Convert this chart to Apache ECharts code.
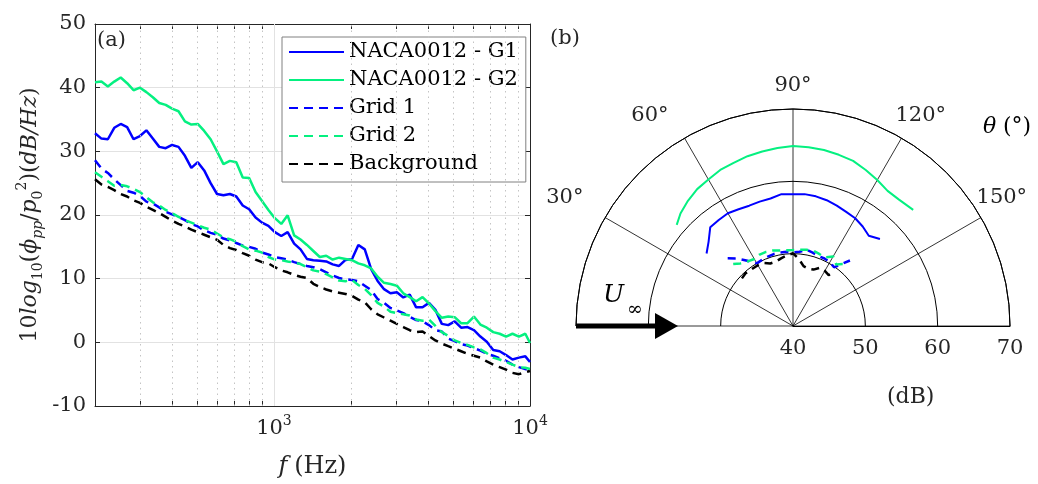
<!DOCTYPE html>
<html><head><meta charset="utf-8">
<script src="https://cdn.jsdelivr.net/npm/echarts@6/dist/echarts.min.js"></script>
<style>html,body{margin:0;padding:0;background:#fff}#c{width:1038px;height:484px}</style>
</head><body><div id="c"></div>
<script>
// ---------- Panel (a) data ----------
const freqs = [200, 211.9, 224.5, 237.8, 252.0, 267.0, 282.8, 299.7, 317.5, 336.4, 356.4, 377.6, 400, 423.8, 449.0, 475.7, 504.0, 533.9, 565.7, 599.3, 635.0, 672.7, 712.7, 755.1, 800, 847.6, 898.0, 951.4, 1008, 1068, 1131, 1199, 1270, 1345, 1425, 1510, 1600, 1695, 1796, 1903, 2016, 2136, 2263, 2397, 2540, 2691, 2851, 3020, 3200, 3390, 3592, 3805, 4032, 4271, 4525, 4794, 5080, 5382, 5702, 6041, 6400, 6781, 7184, 7611, 8063, 8543, 9051, 9589, 10000];
const nacaG1 = [32.85, 32.0, 31.9, 33.7, 34.3, 33.8, 31.9, 32.4, 33.3, 32.0, 30.7, 30.5, 31.0, 30.7, 29.3, 27.4, 28.3, 27.0, 25.0, 23.3, 23.1, 23.3, 22.9, 21.5, 20.9, 19.6, 18.8, 18.3, 17.3, 16.7, 17.3, 15.5, 14.6, 13.1, 12.9, 12.8, 12.7, 12.25, 12.0, 12.95, 13.05, 15.3, 14.6, 11.5, 9.65, 8.35, 7.7, 7.85, 7.05, 7.5, 5.5, 5.5, 6.2, 5.1, 2.9, 2.7, 3.3, 2.3, 2.4, 1.9, 0.9, 0.1, -1.2, -1.4, -2.0, -2.7, -2.4, -2.2, -3.1];
const nacaG2 = [40.85, 40.95, 40.2, 40.95, 41.6, 40.7, 39.6, 40.0, 39.3, 38.5, 37.6, 37.3, 36.7, 36.3, 34.7, 34.2, 34.3, 33.2, 31.9, 30.0, 28.0, 28.5, 28.3, 25.9, 25.8, 23.6, 22.2, 20.8, 19.5, 18.6, 19.95, 16.8, 16.15, 15.3, 14.35, 13.4, 13.6, 13.0, 13.3, 13.1, 12.9, 12.4, 12.1, 11.6, 10.3, 9.35, 9.15, 8.9, 7.7, 7.1, 6.45, 7.1, 6.1, 4.9, 3.85, 4.05, 3.95, 3.0, 3.0, 4.05, 2.8, 2.3, 1.6, 1.35, 0.9, 1.35, 0.9, 1.35, -0.1];
const grid1 = [28.6, 27.3, 26.6, 25.6, 24.7, 23.8, 23.5, 23.0, 22.1, 21.8, 21.2, 20.5, 20.1, 19.7, 19.2, 18.6, 18.2, 17.6, 17.2, 16.9, 16.3, 16.0, 15.6, 15.2, 15.0, 14.7, 14.1, 13.8, 13.4, 13.2, 13.0, 12.6, 12.3, 12.0, 11.8, 11.5, 11.0, 10.5, 10.1, 9.9, 9.8, 9.6, 8.9, 8.2, 6.8, 6.2, 5.4, 5.0, 4.6, 4.0, 3.5, 3.3, 2.7, 1.9, 1.7, 0.6, 0.2, -0.3, -0.5, -0.9, -1.3, -1.8, -2.1, -2.5, -2.9, -3.5, -3.9, -4.2, -4.4];
const grid2 = [26.7, 26.0, 25.3, 24.6, 24.7, 24.5, 24.1, 23.6, 22.8, 22.0, 21.5, 20.8, 20.3, 19.7, 19.2, 18.8, 18.4, 18.0, 17.7, 17.1, 16.5, 16.2, 15.8, 15.1, 14.6, 14.4, 14.1, 13.4, 13.0, 12.9, 12.7, 12.5, 12.3, 11.8, 11.3, 11.1, 10.7, 10.2, 9.7, 9.6, 9.8, 9.0, 8.4, 7.4, 6.2, 5.6, 4.8, 4.6, 4.4, 4.2, 3.6, 3.4, 3.6, 2.6, 1.6, 1.0, 0.3, -0.1, -0.4, -0.8, -1.1, -1.7, -2.4, -2.7, -3.1, -3.5, -3.9, -4.0, -4.2];
const background = [25.6, 24.8, 24.4, 23.9, 23.3, 22.9, 22.3, 21.9, 21.3, 20.8, 20.3, 19.7, 19.1, 18.6, 18.2, 17.7, 17.3, 16.9, 16.5, 16.1, 15.3, 14.8, 14.5, 14.0, 13.6, 13.0, 12.6, 12.4, 11.8, 11.3, 11.0, 10.6, 10.3, 10.1, 9.2, 8.7, 8.3, 8.0, 7.8, 7.6, 7.3, 6.7, 6.3, 5.2, 4.4, 3.9, 3.4, 2.9, 2.4, 1.9, 1.6, 1.7, 1.0, 0.3, -0.2, -0.6, -1.0, -1.4, -1.8, -2.1, -2.4, -3.0, -3.5, -3.9, -4.3, -4.8, -5.0, -4.7, -4.5];
const majorFreqs = [1000, 10000];
const minorFreqs = [300, 400, 500, 600, 700, 800, 900, 2000, 3000, 4000, 5000, 6000, 7000, 8000, 9000];
const tickFreqs = [200, 300, 400, 500, 600, 700, 800, 900, 1000, 2000, 3000, 4000, 5000, 6000, 7000, 8000, 9000, 10000];
const seriesNames = ['NACA0012 - G1', 'NACA0012 - G2', 'Grid 1', 'Grid 2', 'Background'];

// ---------- Panel (b) data (theta in degrees, level in dB) ----------
const thetaG1 = [40, 45, 50, 55, 60, 65, 70, 75, 80, 85, 90, 95, 100, 105, 110, 115, 120, 125, 130, 135];
const polarG1 = [55.6, 56.5, 57.8, 57.9, 58.0, 57.8, 57.7, 57.8, 57.9, 58.3, 58.2, 58.3, 58.2, 58.0, 57.7, 57.4, 57.2, 56.8, 56.3, 57.0];
const thetaG2 = [41, 45, 50, 55, 60, 65, 70, 75, 80, 85, 90, 95, 100, 105, 110, 115, 120, 125, 130, 136];
const polarG2 = [61.3, 62.0, 62.6, 63.1, 63.4, 63.8, 64.0, 64.3, 64.5, 64.7, 64.9, 64.8, 64.7, 64.5, 64.3, 63.8, 63.3, 62.8, 62.8, 63.1];
const thetaGrid1 = [46, 50, 55, 60, 65, 70, 75, 80, 85, 90, 95, 100, 105, 110, 115, 120, 125, 131];
const polarGrid1 = [53.0, 52.2, 51.0, 50.0, 50.1, 50.2, 50.3, 50.3, 50.3, 50.2, 50.3, 50.7, 50.5, 50.3, 50.3, 50.2, 49.9, 52.0];
const thetaGrid2 = [46, 50, 55, 60, 65, 70, 75, 80, 85, 90, 95, 100, 105, 110, 115, 120, 125, 130];
const polarGrid2 = [51.9, 51.3, 50.9, 50.7, 50.9, 50.9, 50.8, 50.6, 50.5, 50.5, 50.6, 50.7, 50.8, 50.6, 50.45, 51.1, 50.4, 51.2];
const thetaBg = [43, 48, 55, 60, 65, 70, 75, 80, 85, 90, 95, 100, 105, 110, 115, 120, 125, 127];
const polarBg = [49.65, 49.8, 49.7, 49.7, 49.6, 49.2, 49.2, 49.5, 49.8, 50.05, 49.3, 48.4, 48.2, 48.3, 48.9, 48.8, 48.6, 49.0];
const radiusTicks = [40, 50, 60, 70];

// ---------- build ----------
const FONT = 'DejaVu Serif';
const TXT = '#262626';
const BLUE = '#0000ff';
const GREEN = '#05f080';
const BLACK = '#000000';
const pairs = (xs, ys) => xs.map((x, i) => [x, ys[i]]);
const polarPairs = (th, db) => th.map((t, i) => [db[i], 180 - t]);

const chart = echarts.init(document.getElementById('c'), null, {renderer: 'canvas'});

const lineSeries = (name, data, color, dashed) => ({
  type: 'line', name, data, xAxisIndex: 0, yAxisIndex: 0, symbol: 'none', z: 3,
  lineStyle: {color, width: 2.5, type: dashed ? [9, 6] : 'solid'},
  itemStyle: {color}, animation: false
});
const polarSeries = (name, data, color, dashed) => ({
  type: 'line', name, data, coordinateSystem: 'polar', polarIndex: 0, symbol: 'none', z: 3,
  lineStyle: {color, width: dashed ? 2.5 : 2, type: dashed ? [8, 6] : 'solid'},
  itemStyle: {color}, animation: false
});

const richBase = {
  n: {fontFamily: FONT, fontSize: 22, color: TXT, lineHeight: 30, verticalAlign: 'middle'},
  i: {fontFamily: FONT, fontSize: 22, color: TXT, fontStyle: 'italic', lineHeight: 30, verticalAlign: 'middle'},
  s: {fontFamily: FONT, fontSize: 14, color: TXT, lineHeight: 14, verticalAlign: 'bottom'},
  si: {fontFamily: FONT, fontSize: 14, color: TXT, fontStyle: 'italic', lineHeight: 14, verticalAlign: 'bottom'},
  u: {fontFamily: FONT, fontSize: 14, color: TXT, lineHeight: 14, verticalAlign: 'top'}
};
const richBig = {
  n: {fontFamily: FONT, fontSize: 24, color: TXT, lineHeight: 30, verticalAlign: 'middle'},
  i: {fontFamily: FONT, fontSize: 24, color: TXT, fontStyle: 'italic', lineHeight: 30, verticalAlign: 'middle'}
};

// per-label nudges of the polar angle labels (padding in px: top, right, bottom, left)
const angleLabelRich = {
  a30: {fontFamily: FONT, fontSize: 21, color: TXT, padding: [0, 32, 15, 0]},
  a60: {fontFamily: FONT, fontSize: 21, color: TXT, padding: [0, 22, 22, 0]},
  a90: {fontFamily: FONT, fontSize: 21, color: TXT, padding: [0, 0, 25, 0]},
  a120: {fontFamily: FONT, fontSize: 21, color: TXT, padding: [0, 0, 22, 0]},
  a150: {fontFamily: FONT, fontSize: 21, color: TXT, padding: [0, 0, 15, 6]}
};

const xAxisCommon = {
  type: 'log', logBase: 10, min: 200, max: 10000, gridIndex: 0,
  axisLine: {show: true, onZero: false, lineStyle: {color: TXT, width: 1}},
  axisTick: {show: true, inside: true, length: 5, customValues: tickFreqs, lineStyle: {color: TXT}},
  splitLine: {show: false}, minorTick: {show: false}, minorSplitLine: {show: false}
};

const option = {
  animation: false,
  backgroundColor: '#ffffff',
  grid: [{left: 95, top: 24, width: 435, height: 385, show: false}],
  xAxis: [
    Object.assign({}, xAxisCommon, {
      position: 'bottom',
      axisLabel: {
        customValues: majorFreqs, margin: 8,
        formatter: v => '{b|10}{p|' + Math.round(Math.log10(v)) + '}',
        rich: {
          b: {fontFamily: FONT, fontSize: 21, color: TXT, lineHeight: 30, verticalAlign: 'middle'},
          p: {fontFamily: FONT, fontSize: 14, color: TXT, lineHeight: 14, verticalAlign: 'top'}
        }
      },
      name: '{i|f}  {n|(Hz)}', nameLocation: 'middle', nameGap: 46,
      nameTextStyle: {rich: richBig}
    }),
    Object.assign({}, xAxisCommon, {position: 'top', axisLabel: {show: false}})
  ],
  yAxis: [
    {
      type: 'value', min: -10, max: 50, interval: 10, gridIndex: 0, position: 'left',
      axisLine: {show: true, onZero: false, lineStyle: {color: TXT, width: 1}},
      axisTick: {show: true, inside: true, length: 5, lineStyle: {color: TXT}},
      axisLabel: {fontFamily: FONT, fontSize: 21, color: TXT, margin: 9},
      splitLine: {show: true, lineStyle: {color: '#e2e2e2', width: 1}},
      name: '{n|10}{i|log}{s|10}{n|(}{i|ϕ}{si|pp}{n|/}{i|p}{s|0}{u|2}{n|)(}{i|dB/Hz}{n|)}',
      nameLocation: 'middle', nameGap: 50, nameRotate: 90,
      nameTextStyle: {rich: richBase}
    },
    {
      type: 'value', min: -10, max: 50, interval: 10, gridIndex: 0, position: 'right',
      axisLine: {show: true, onZero: false, lineStyle: {color: TXT, width: 1}},
      axisTick: {show: true, inside: true, length: 5, lineStyle: {color: TXT}},
      axisLabel: {show: false}, splitLine: {show: false}
    }
  ],
  polar: [{center: [793, 326], radius: [0, 217]}],
  angleAxis: {
    polarIndex: 0, type: 'value', min: 0, max: 180, interval: 30,
    startAngle: 0, endAngle: 180, clockwise: false,
    axisLine: {show: true, lineStyle: {color: BLACK, width: 1}},
    axisTick: {show: false},
    axisLabel: {
      margin: -12, fontFamily: FONT, fontSize: 21, color: TXT,
      formatter: v => (v <= 0 || v >= 180) ? '' : '{a' + (180 - v) + '|' + (180 - v) + '°}',
      rich: angleLabelRich
    },
    splitLine: {show: true, lineStyle: {color: BLACK, width: 0.8}}
  },
  radiusAxis: {
    polarIndex: 0, type: 'value', min: radiusTicks[0], max: radiusTicks[radiusTicks.length - 1], interval: 10,
    axisLine: {show: true, lineStyle: {color: BLACK, width: 1}},
    axisTick: {show: false},
    axisLabel: {fontFamily: FONT, fontSize: 21, color: TXT, margin: -12, verticalAlign: 'top'},
    splitLine: {show: true, lineStyle: {color: BLACK, width: 1}}
  },
  legend: {
    data: seriesNames, orient: 'vertical', left: 282, top: 37,
    itemWidth: 55, itemHeight: 2, itemGap: 6, padding: [4, 8, 7, 6],
    itemStyle: {opacity: 0, borderWidth: 0},
    borderColor: '#808080', borderWidth: 1, backgroundColor: '#ffffff',
    textStyle: {fontFamily: FONT, fontSize: 21, color: '#000', lineHeight: 22},
    selectedMode: false
  },
  series: [
    {
      type: 'line', name: '_gridlines', data: [], xAxisIndex: 0, yAxisIndex: 0, z: 1, silent: true,
      markLine: {
        silent: true, symbol: ['none', 'none'], label: {show: false}, animation: false,
        data: minorFreqs.map(f => ({xAxis: f, lineStyle: {type: [1.5, 4], color: '#c4c4c4', width: 1}}))
          .concat(majorFreqs.slice(0, 1).map(f => ({xAxis: f, lineStyle: {type: 'solid', color: '#e2e2e2', width: 1}})))
      }
    },
    lineSeries(seriesNames[0], pairs(freqs, nacaG1), BLUE, false),
    lineSeries(seriesNames[1], pairs(freqs, nacaG2), GREEN, false),
    lineSeries(seriesNames[2], pairs(freqs, grid1), BLUE, true),
    lineSeries(seriesNames[3], pairs(freqs, grid2), GREEN, true),
    lineSeries(seriesNames[4], pairs(freqs, background), BLACK, true),
    polarSeries('p1', polarPairs(thetaG1, polarG1), BLUE, false),
    polarSeries('p2', polarPairs(thetaG2, polarG2), GREEN, false),
    polarSeries('p3', polarPairs(thetaGrid1, polarGrid1), BLUE, true),
    polarSeries('p4', polarPairs(thetaGrid2, polarGrid2), GREEN, true),
    polarSeries('p5', polarPairs(thetaBg, polarBg), BLACK, true)
  ],
  graphic: [
    {type: 'text', left: 97, top: 30, z: 10, style: {text: '(a)', font: '21px "DejaVu Serif"', fill: TXT}},
    {type: 'text', left: 550, top: 28, z: 10, style: {text: '(b)', font: '21px "DejaVu Serif"', fill: TXT}},
    {type: 'text', left: 983, top: 116, z: 10, style: {text: '{i|θ}  {n|(°)}', rich: richBase}},
    {type: 'text', left: 887, top: 386, z: 10, style: {text: '(dB)', font: '22px "DejaVu Serif"', fill: TXT}},
    {type: 'text', left: 603, top: 283, z: 10, style: {text: 'U', font: 'italic 25px "DejaVu Serif"', fill: '#000'}},
    {type: 'text', left: 627, top: 301, z: 10, style: {text: '∞', font: '19px "DejaVu Serif"', fill: '#000'}},
    {type: 'rect', z: 10, shape: {x: 576, y: 323.5, width: 80, height: 5}, style: {fill: '#000'}},
    {type: 'polygon', z: 10, shape: {points: [[655, 313], [678, 326], [655, 339]]}, style: {fill: '#000'}}
  ]
};
chart.setOption(option);
</script>
</body></html>
